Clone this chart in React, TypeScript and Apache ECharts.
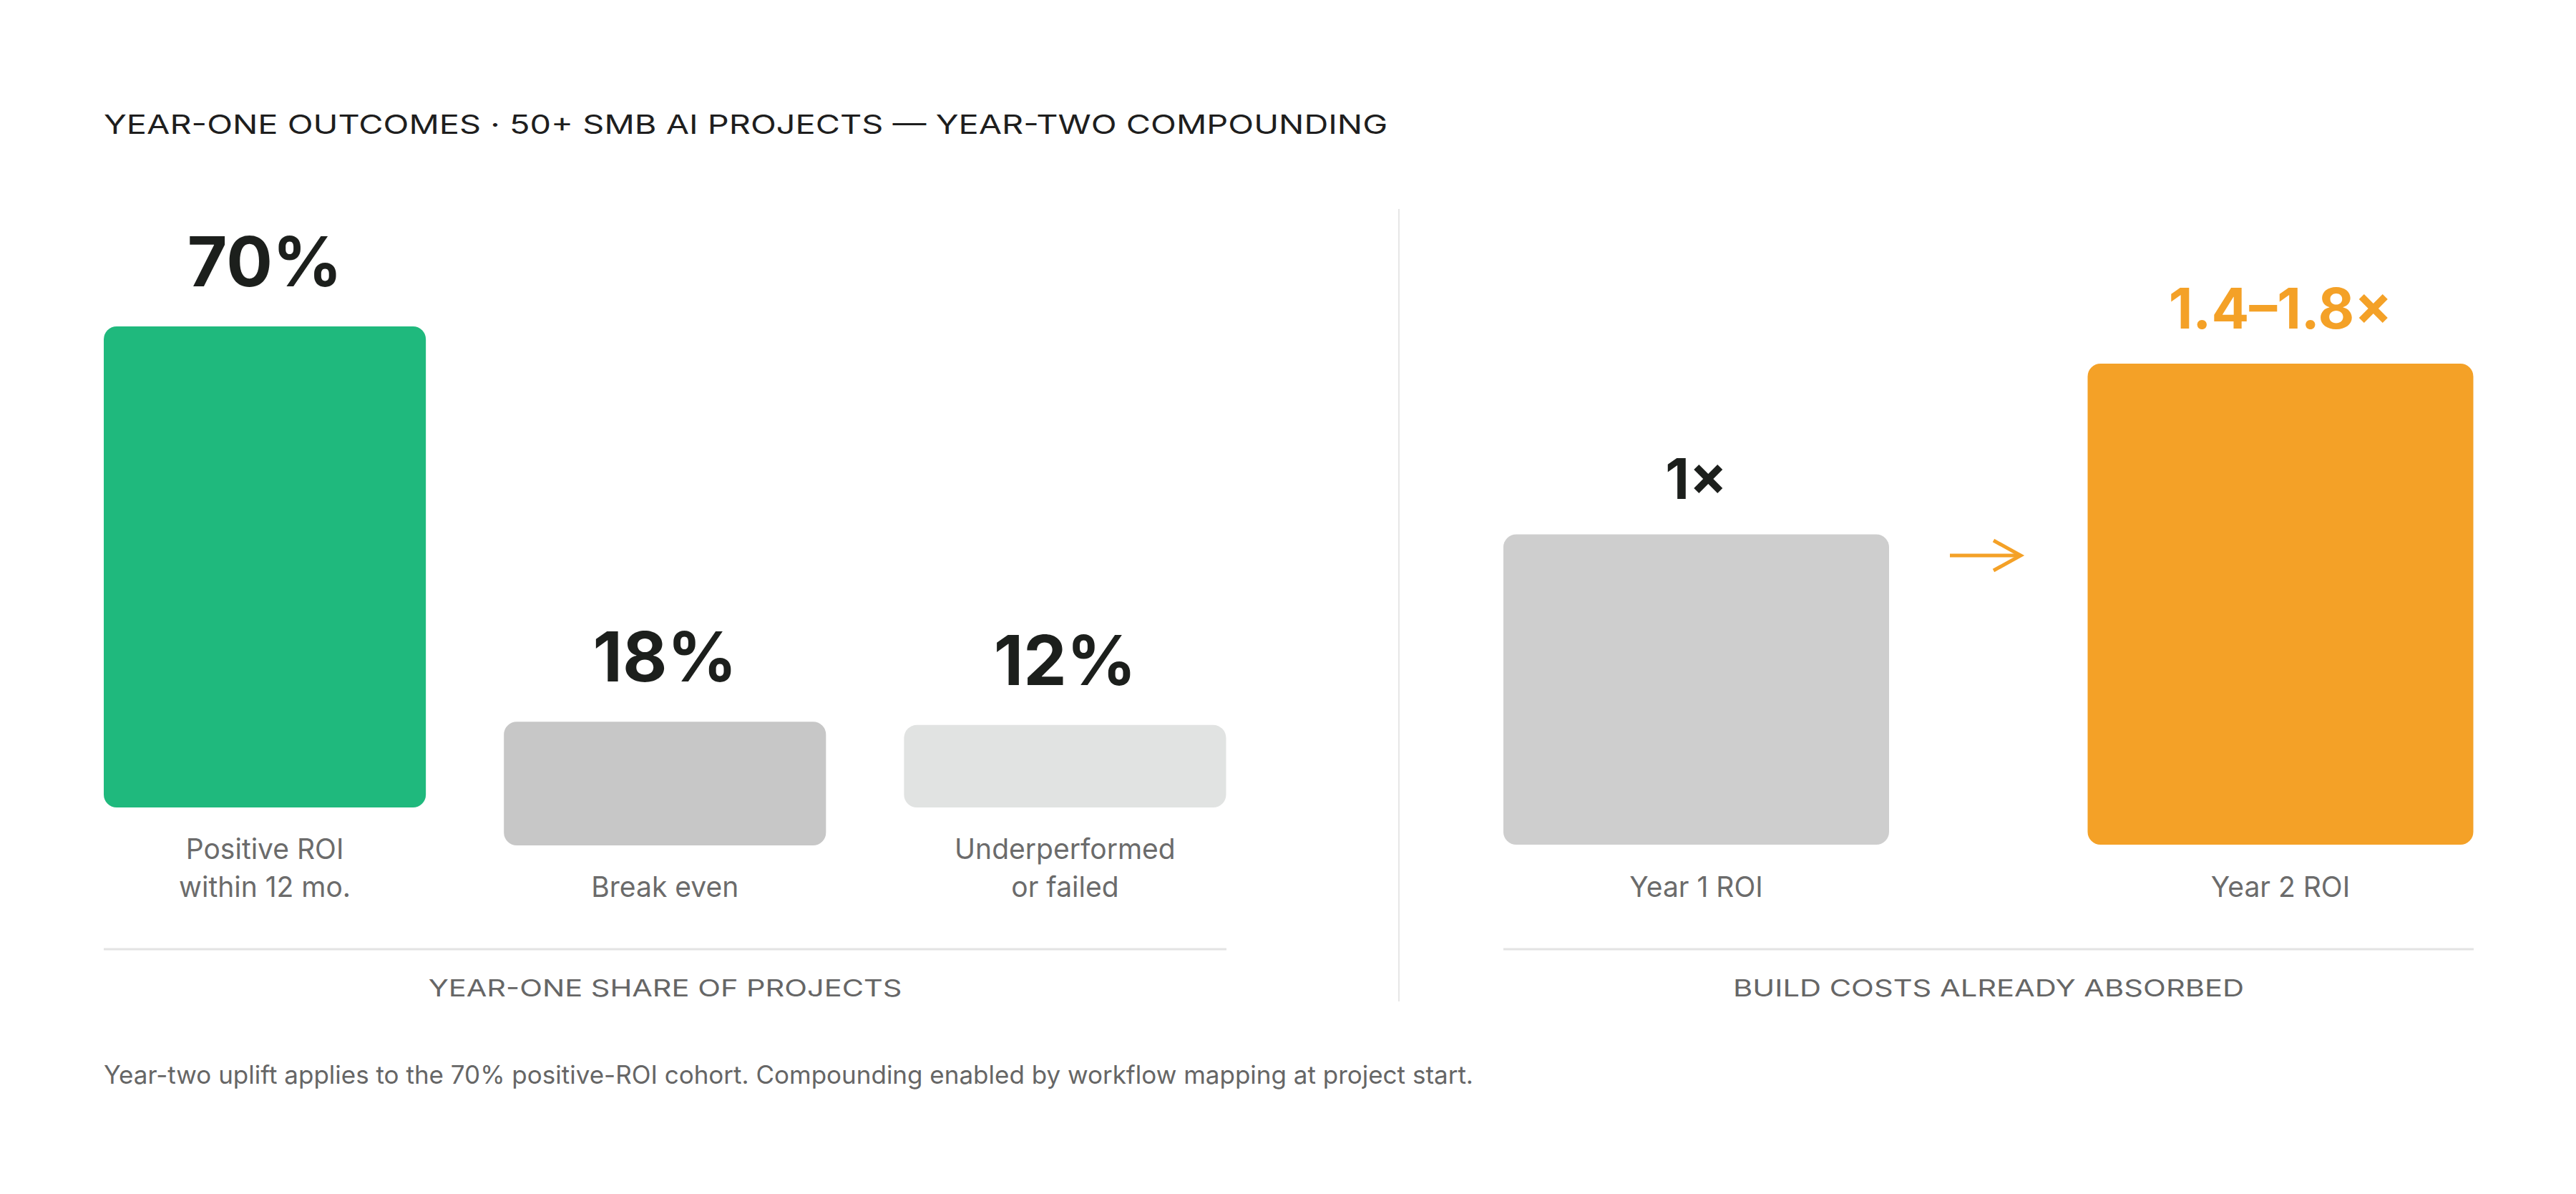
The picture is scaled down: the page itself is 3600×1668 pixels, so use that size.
import React, { useEffect, useRef } from "react";
import * as echarts from "echarts";

const TITLE = "YEAR-ONE OUTCOMES · 50+ SMB AI PROJECTS — YEAR-TWO COMPOUNDING";
const FOOTNOTE =
  "Year-two uplift applies to the 70% positive-ROI cohort. Compounding enabled by workflow mapping at project start.";

const outcomeCategories = ["Positive ROI\nwithin 12 mo.", "Break even", "Underperformed\nor failed"];
const outcomeValues = [70, 18, 12];
const outcomeLabels = ["70%", "18%", "12%"];
const outcomeColors = ["#1FB97D", "#C7C7C7", "#E1E3E2"];
const outcomeAxisTitle = "YEAR-ONE SHARE OF PROJECTS";

const roiCategories = ["Year 1 ROI", "Year 2 ROI"];
const roiValues = [1, 1.55];
const roiLabels = ["1×", "1.4–1.8×"];
const roiColors = ["#CECECE", "#F4A127"];
const roiLabelColors = ["#1C1F1C", "#F4A127"];
const roiAxisTitle = "BUILD COSTS ALREADY ABSORBED";

const FONT = "Inter";
const LINE_H = 53;
const ORANGE = "#F4A127";

function measure(text: string, font: string): number {
  const c = document.createElement("canvas");
  const ctx = c.getContext("2d");
  if (!ctx) return 1;
  ctx.font = font;
  return ctx.measureText(text).width || 1;
}

export default function App() {
  const ref = useRef<HTMLDivElement>(null);

  useEffect(() => {
    document.body.style.margin = "0";
    if (!ref.current) return;
    const chart = echarts.init(ref.current, undefined, { renderer: "svg" });

    const titleScale = 1795 / measure(TITLE, `400 37px ${FONT}`);
    const leftSubScale = 662 / measure(outcomeAxisTitle, `400 33px ${FONT}`);
    const rightSubScale = 714 / measure(roiAxisTitle, `400 33px ${FONT}`);

    const maxLines = Math.max(...outcomeCategories.map((c) => c.split("\n").length));
    const outcomeData = outcomeValues.map((v, i) => [i, v, outcomeCategories[i].split("\n").length]);

    const option: any = {
      animation: false,
      backgroundColor: "#FFFFFF",
      grid: [
        { left: 90.5, top: 456, width: 1677.5, height: 672 },
        { left: 1962.25, top: 508, width: 1633, height: 672 },
      ],
      xAxis: [
        {
          type: "category",
          gridIndex: 0,
          data: outcomeCategories,
          axisLine: { show: false },
          axisTick: { show: false },
          axisLabel: { show: false },
          splitLine: { show: false },
        },
        {
          type: "category",
          gridIndex: 1,
          data: roiCategories,
          axisLine: { show: false },
          axisTick: { show: false },
          splitLine: { show: false },
          axisLabel: {
            show: true,
            margin: 32,
            fontSize: 39,
            lineHeight: LINE_H,
            fontFamily: FONT,
            color: "#6B6B6B",
          },
        },
      ],
      yAxis: [
        { type: "value", gridIndex: 0, min: 0, max: 70, show: false, splitLine: { show: false } },
        { type: "value", gridIndex: 1, min: 0, max: 1.55, show: false, splitLine: { show: false } },
      ],
      series: [
        {
          type: "custom",
          xAxisIndex: 0,
          yAxisIndex: 0,
          data: outcomeData,
          encode: { x: 0, y: 1 },
          clip: false,
          renderItem: (params: any, api: any) => {
            const i = api.value(0);
            const v = api.value(1);
            const lines = api.value(2);
            const shift = (maxLines - lines) * LINE_H;
            const base = api.coord([i, 0]);
            const top = api.coord([i, v]);
            const bw = api.size([1, 0])[0] * 0.805;
            const y0 = top[1] + shift;
            const h = base[1] - top[1];
            return {
              type: "group",
              children: [
                {
                  type: "rect",
                  shape: { x: base[0] - bw / 2, y: y0, width: bw, height: h, r: 18 },
                  style: { fill: outcomeColors[i] },
                },
                {
                  type: "text",
                  style: {
                    text: outcomeLabels[i],
                    x: base[0],
                    y: y0 - 91,
                    align: "center",
                    verticalAlign: "middle",
                    fontSize: 96,
                    fontWeight: 700,
                    fontFamily: FONT,
                    fill: "#1C1F1C",
                  },
                },
                {
                  type: "text",
                  style: {
                    text: outcomeCategories[i],
                    x: base[0],
                    y: base[1] + shift + 31,
                    align: "center",
                    verticalAlign: "top",
                    fontSize: 39,
                    lineHeight: LINE_H,
                    fontFamily: FONT,
                    fill: "#6B6B6B",
                  },
                },
              ],
            };
          },
        },
        {
          type: "bar",
          xAxisIndex: 1,
          yAxisIndex: 1,
          barWidth: 539,
          data: roiValues.map((v, i) => ({
            value: v,
            itemStyle: { color: roiColors[i], borderRadius: 18 },
            label: { color: roiLabelColors[i] },
          })),
          label: {
            show: true,
            position: "top",
            distance: 39,
            formatter: (p: any) => roiLabels[p.dataIndex],
            fontSize: 78,
            lineHeight: 78,
            fontWeight: 700,
            fontFamily: FONT,
          },
        },
      ],
      graphic: [
        {
          type: "text",
          x: 145,
          y: 173,
          scaleX: titleScale,
          style: {
            text: TITLE,
            fontSize: 37,
            fontWeight: 400,
            fontFamily: FONT,
            fill: "#1E1E1E",
            align: "left",
            verticalAlign: "middle",
          },
        },
        {
          type: "line",
          shape: { x1: 1955, y1: 292, x2: 1955, y2: 1399 },
          style: { stroke: "#E6E6E6", lineWidth: 2 },
        },
        {
          type: "line",
          shape: { x1: 145, y1: 1326, x2: 1714, y2: 1326 },
          style: { stroke: "#E3E3E3", lineWidth: 3 },
        },
        {
          type: "line",
          shape: { x1: 2101, y1: 1326, x2: 3457, y2: 1326 },
          style: { stroke: "#E3E3E3", lineWidth: 3 },
        },
        {
          type: "text",
          x: 929.5,
          y: 1380,
          scaleX: leftSubScale,
          style: {
            text: outcomeAxisTitle,
            fontSize: 33,
            fontFamily: FONT,
            fill: "#666666",
            align: "center",
            verticalAlign: "middle",
          },
        },
        {
          type: "text",
          x: 2779,
          y: 1380,
          scaleX: rightSubScale,
          style: {
            text: roiAxisTitle,
            fontSize: 33,
            fontFamily: FONT,
            fill: "#666666",
            align: "center",
            verticalAlign: "middle",
          },
        },
        {
          type: "line",
          shape: { x1: 2725, y1: 776, x2: 2820, y2: 776 },
          style: { stroke: ORANGE, lineWidth: 5 },
        },
        {
          type: "polyline",
          shape: { points: [[2786, 755], [2824, 776], [2786, 797]] },
          style: { stroke: ORANGE, lineWidth: 5, fill: "none" },
        },
        {
          type: "text",
          x: 145,
          y: 1501,
          style: {
            text: FOOTNOTE,
            fontSize: 35,
            fontFamily: FONT,
            fill: "#666666",
            align: "left",
            verticalAlign: "middle",
          },
        },
      ],
    };

    chart.setOption(option);
    return () => chart.dispose();
  }, []);

  return <div ref={ref} style={{ width: 3600, height: 1668 }} />;
}
